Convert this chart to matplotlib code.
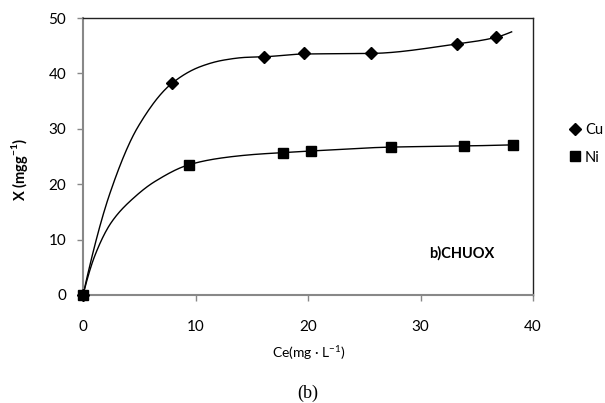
import numpy as np
import matplotlib
matplotlib.use("Agg")
import matplotlib.pyplot as plt

# measured data points
cu_ce = [0, 7.9, 16.1, 19.6, 25.6, 33.2, 36.7]
cu_x = [0, 38.2, 43.0, 43.6, 43.6, 45.3, 46.5]
ni_ce = [0, 9.4, 17.8, 20.3, 27.4, 33.9, 38.2]
ni_x = [0, 23.5, 25.7, 26.0, 26.7, 26.9, 27.1]

# points
cu_curve_ce = [0, 2.4, 4.9, 7.9, 10.4, 12.5, 14.5, 16.1, 19.6, 25.6, 33.2, 36.7, 38.1]
cu_curve_x = [0, 18.4, 30.4, 38.2, 41.2, 42.4, 42.9, 43.0, 43.5, 43.6, 45.3, 46.5, 47.5]
ni_curve_ce = [0, 1.07, 2.55, 4.6, 6.4, 9.4, 12.2, 15.4, 17.8, 20.3, 27.4, 33.9, 38.2]
ni_curve_x = [0, 7.2, 13.2, 17.7, 20.5, 23.5, 24.7, 25.4, 25.7, 26.0, 26.7, 26.9, 27.1]

x_ticks = [0, 10, 20, 30, 40]
y_ticks = [0, 10, 20, 30, 40, 50]


def pchip(xs, ys, n=30):
    x = np.asarray(xs, float)
    y = np.asarray(ys, float)
    h = np.diff(x)
    d = np.diff(y) / h
    k = len(x)
    m = np.zeros(k)
    for i in range(1, k - 1):
        if d[i - 1] * d[i] <= 0:
            m[i] = 0
        else:
            w1 = 2 * h[i] + h[i - 1]
            w2 = h[i] + 2 * h[i - 1]
            m[i] = (w1 + w2) / (w1 / d[i - 1] + w2 / d[i])

    def end(h0, h1, d0, d1):
        v = ((2 * h0 + h1) * d0 - h0 * d1) / (h0 + h1)
        if np.sign(v) != np.sign(d0):
            v = 0
        elif np.sign(d0) != np.sign(d1) and abs(v) > abs(3 * d0):
            v = 3 * d0
        return v

    m[0] = end(h[0], h[1], d[0], d[1])
    m[-1] = end(h[-1], h[-2], d[-1], d[-2])
    X, Y = [], []
    for i in range(k - 1):
        t = np.linspace(0, 1, n)
        if i > 0:
            t = t[1:]
        h00 = 2 * t**3 - 3 * t**2 + 1
        h10 = t**3 - 2 * t**2 + t
        h01 = -2 * t**3 + 3 * t**2
        h11 = t**3 - t**2
        X.append(x[i] + t * h[i])
        Y.append(h00 * y[i] + h10 * h[i] * m[i] + h01 * y[i + 1] + h11 * h[i] * m[i + 1])
    return np.concatenate(X), np.concatenate(Y)


font = "Lato"
plt.rcParams["mathtext.fontset"] = "custom"
plt.rcParams["mathtext.rm"] = font
plt.rcParams["mathtext.bf"] = font + ":bold"

fig = plt.figure(figsize=(6.05, 4.03), dpi=100)
ax = fig.add_axes([83 / 605, 1 - 295 / 403, 450 / 605, 277 / 403])

cx, cy = pchip(cu_curve_ce, cu_curve_x)
nx, ny = pchip(ni_curve_ce, ni_curve_x)
ax.plot(cx, cy, color="black", lw=1.0, clip_on=False)
ax.plot(nx, ny, color="black", lw=1.0, clip_on=False)
ax.plot(cu_ce, cu_x, ls="none", marker="D", ms=6.5, color="black", clip_on=False, zorder=5, label="Cu")
ax.plot(ni_ce, ni_x, ls="none", marker="s", ms=7, color="black", clip_on=False, zorder=5, label="Ni")

ax.set_xlim(0, 40)
ax.set_ylim(0, 50)
ax.set_xticks(x_ticks)
ax.set_yticks(y_ticks)
ax.tick_params(axis="both", direction="out", length=4, width=1, color="#888888",
               labelsize=11)
ax.tick_params(axis="x", pad=14)
ax.tick_params(axis="y", pad=8)
for lab in ax.get_xticklabels() + ax.get_yticklabels():
    lab.set_fontfamily(font)

for s in ["left", "bottom"]:
    ax.spines[s].set_color("#888888")
    ax.spines[s].set_linewidth(1.5)
for s in ["top", "right"]:
    ax.spines[s].set_color("#222222")
    ax.spines[s].set_linewidth(1.0)

fig.text(462 / 605, 1 - 253 / 403, "b)CHUOX", ha="center", va="center",
         fontsize=10.5, fontweight="bold", fontfamily=font)

fig.text(20 / 605, 1 - 169 / 403, r"X (mgg$^{\mathbf{-1}}$)", rotation=90, ha="center", va="center",
         fontsize=10.5, fontweight="bold", fontfamily=font)
fig.text(309 / 605, 1 - 353 / 403, r"Ce(mg · L$^{\mathrm{-1}}$)", ha="center", va="center",
         fontsize=10, fontfamily=font)
fig.text(308 / 605, 1 - 393 / 403, "(b)", ha="center", va="center",
         fontsize=13, fontfamily="Liberation Serif")

leg = ax.legend(loc="center left", bbox_to_anchor=(571 / 605, 1 - 144 / 403), bbox_transform=fig.transFigure,
                frameon=False, handlelength=0.6, handletextpad=0.35, labelspacing=0.9,
                prop={"family": font, "size": 10.5}, borderaxespad=0, borderpad=0)

fig.savefig("out.png", dpi=100)
